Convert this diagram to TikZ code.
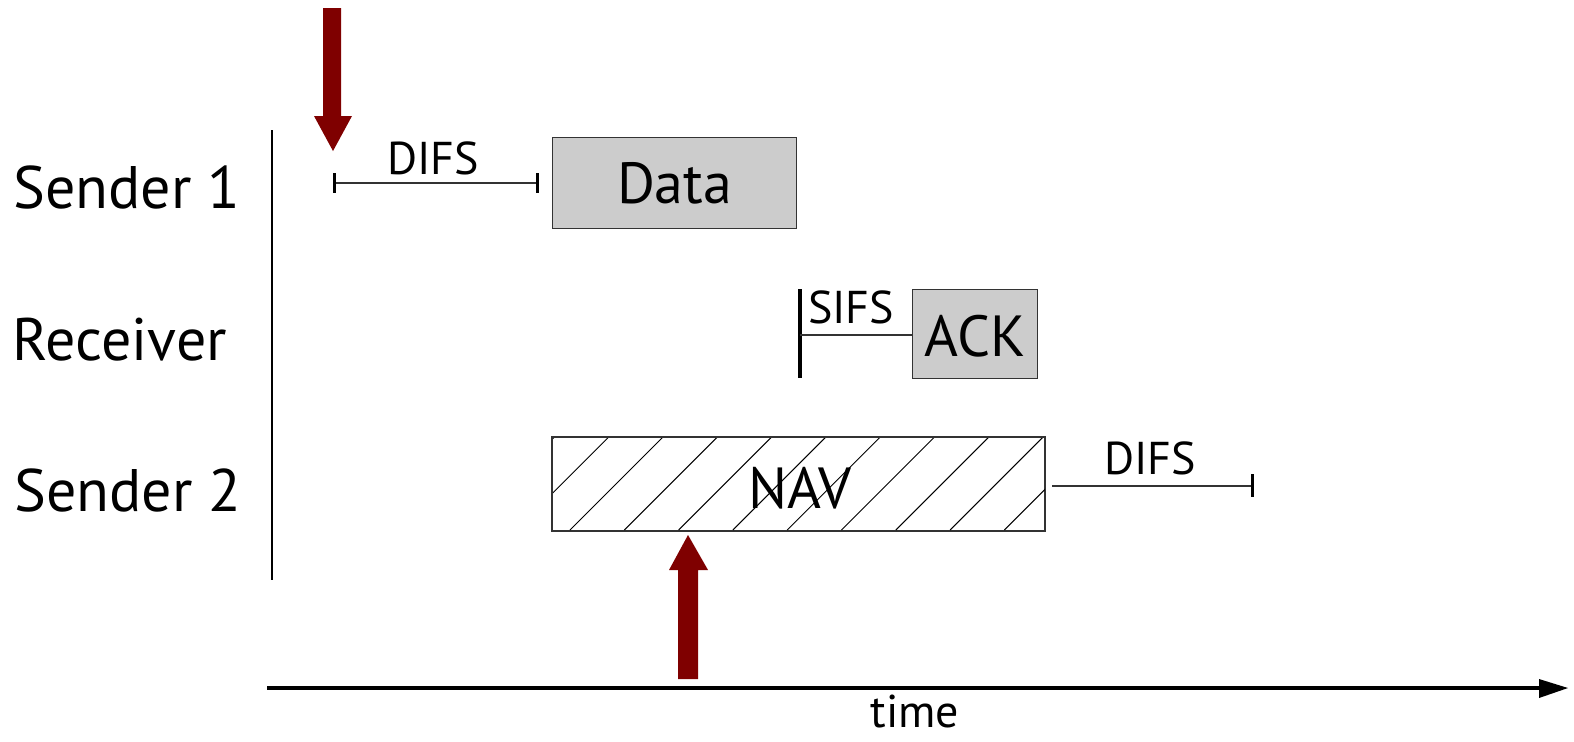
\documentclass[tikz,border=0pt]{standalone}
\usepackage{fontspec}
\setmainfont{PT Sans}
\definecolor{darkred}{HTML}{7F0000}
\definecolor{boxgray}{HTML}{CCCCCC}
\begin{document}
\begin{tikzpicture}[x=0.5pt,y=-0.5pt,
  rowlabel/.style={font=\fontsize{30}{36}\selectfont, inner sep=0pt},
  boxlabel/.style={font=\fontsize{29}{34}\selectfont, inner sep=0pt},
  ifslabel/.style={font=\fontsize{23}{28}\selectfont, inner sep=0pt},
  framebox/.style={draw=black!80, line width=0.6pt, inner sep=0pt},
  ifsline/.style={draw=black!80, line width=0.7pt},
  tick/.style={draw=black, line width=1.5pt},
  bigarrow/.style={fill=darkred, draw=none}]
\useasboundingbox (0,0) rectangle (1574,741);

% row labels
\node[rowlabel] (s1) at (127,187) {Sender 1};
\node[rowlabel] (rc) at (120,340) {Receiver};
\node[rowlabel] (s2) at (128,490) {Sender 2};

% vertical axis
\coordinate (vtop) at (272,130);
\coordinate (vbot) at (272,580);
\draw[line width=0.6pt] (vtop) -- (vbot);

% time axis
\coordinate (tstart) at (267,688);
\coordinate (tend) at (1540,688);
\draw[line width=2.2pt] (tstart) -- (tend);
\fill (1539,679) -- (1568,688) -- (1539,698) -- cycle;
\node[ifslabel, anchor=base] (time) at (915,727) {time};

% Sender 1: DIFS + Data
\coordinate (d1a) at (334,183);
\coordinate (d1b) at (537,183);
\draw[ifsline] (d1a) -- (d1b);
\draw[tick] (334,173) -- (334,193);
\draw[tick] (537,173) -- (537,193);
\node[ifslabel] (difs1) at (433,158) {DIFS};
\node[framebox, fill=boxgray, minimum width=122pt, minimum height=45.5pt, anchor=north west] (data) at (552,137) {};
\node[boxlabel] at (data.center) {Data};

% Receiver: SIFS + ACK
\coordinate (sbar) at (800,335);
\draw[line width=1.6pt] (800,289) -- (800,378);
\node[framebox, fill=boxgray, minimum width=62.5pt, minimum height=44.5pt, anchor=north west] (ack) at (912,289) {};
\node[boxlabel] at ([yshift=-1pt]ack.center) {ACK};
\draw[ifsline] (sbar) -- (ack.west |- sbar);
\node[ifslabel] (sifs) at (851,307) {SIFS};

% Sender 2: NAV + DIFS
\node[framebox, minimum width=246pt, minimum height=46.5pt, anchor=north west] (nav) at (552,437) {};
\begin{scope}
  \clip (nav.south west) rectangle (nav.north east);
  \foreach \k in {-2,...,12} {
    \pgfmathsetmacro{\c}{1100+54.3*(\k-1)}
    \draw[line width=0.5pt] (\c-437,437) -- (\c-530,530);
  }
\end{scope}
\draw[draw=black!80, line width=0.6pt] (nav.south west) rectangle (nav.north east);
\node[boxlabel] at (800,488) {NAV};
\coordinate (d2b) at (1252,486);
\draw[ifsline] (nav.east |- d2b) ++(7,0) -- (d2b);
\draw[tick] (1252,474) -- (1252,497);
\node[ifslabel] (difs2) at (1150,458) {DIFS};

% red arrows
\fill[bigarrow] (323,8) -- (341,8) -- (341,116) -- (352,116) -- (333,151) -- (314,116) -- (323,116) -- cycle;
\fill[bigarrow] (678,679) -- (698,679) -- (698,570) -- (708,570) -- (688,535) -- (669,570) -- (678,570) -- cycle;
\end{tikzpicture}
\end{document}
